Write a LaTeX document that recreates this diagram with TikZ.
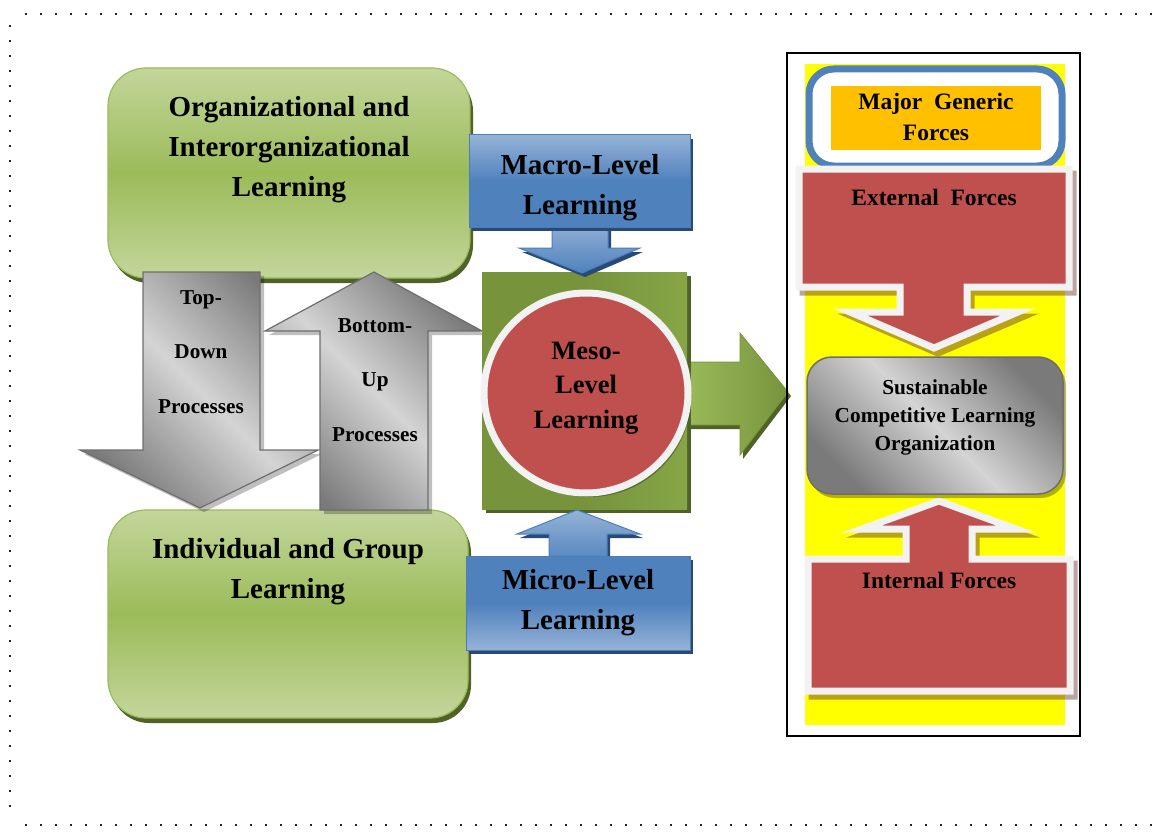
\documentclass[tikz,border=0pt]{standalone}
\usepackage{fontspec}
\setmainfont{Liberation Serif}
\usetikzlibrary{shadows}
\definecolor{gLight}{HTML}{C3D69B}
\definecolor{gMid}{HTML}{9BBB59}
\definecolor{gDark}{HTML}{4F6228}
\definecolor{gSq}{HTML}{77933C}
\definecolor{gSqL}{HTML}{86A646}
\definecolor{bLight}{HTML}{95B3D7}
\definecolor{bMid}{HTML}{4F81BD}
\definecolor{bEdge}{HTML}{4A7EBB}
\definecolor{bDark}{HTML}{2A4A75}
\definecolor{rFill}{HTML}{C0504D}
\definecolor{wEdge}{HTML}{F2F2F2}
\definecolor{grDark}{HTML}{7A7A7A}
\definecolor{grLight}{HTML}{D4D4D4}
\definecolor{grEdge}{HTML}{6E6E6E}
\definecolor{yFill}{HTML}{FFFF00}
\definecolor{oFill}{HTML}{FFC000}
\definecolor{shRed}{HTML}{6A3030}
\begin{document}
\begin{tikzpicture}[x=1pt,y=-1pt,
  dotline/.style={line width=2pt, dash pattern=on 2pt off 13pt, black!85},
  greenbox/.style={rounded corners=38pt, draw=gMid, line width=1.2pt,
    top color=gLight, bottom color=gLight, middle color=gMid,
    drop shadow={shadow xshift=3pt, shadow yshift=-5pt, fill=gDark, opacity=1}},
  grayarrow/.style={draw=grEdge, line width=1.2pt,
    top color=grDark, bottom color=grDark, middle color=grLight, shading angle=-45,
    drop shadow={shadow xshift=4pt, shadow yshift=-4pt, fill=black, opacity=.25}},
  bluebox/.style={draw=bEdge, line width=1pt,
    drop shadow={shadow xshift=3pt, shadow yshift=-4pt, fill=bDark, opacity=1}},
  redarrow/.style={fill=rFill, draw=wEdge, line width=7pt},
  redshadow/.style={draw=shRed, draw opacity=.45, line width=7pt},
  txt/.style={align=center, text=black, inner sep=0pt},
  t29/.style={txt, font=\fontsize{29}{40}\selectfont\bfseries},
  t21/.style={txt, font=\fontsize{21.2}{54.5}\selectfont\bfseries},
  t23/.style={txt, font=\fontsize{23.5}{30.5}\selectfont\bfseries},
]
\useasboundingbox (0,0) rectangle (1159,832);

% dotted page border
\coordinate (bt1) at (25,14);  \coordinate (bt2) at (1159,14);
\coordinate (bl1) at (10,25);  \coordinate (bl2) at (10,815);
\coordinate (bb1) at (25,825); \coordinate (bb2) at (1159,825);
\draw[dotline] (bt1) -- (bt2);
\draw[dotline] (bl1) -- (bl2);
\draw[dotline] (bb1) -- (bb2);

% green level boxes
\path[greenbox] (108,68) rectangle (470,278);
\path[greenbox] (108,510) rectangle (468,718);

% top-down / bottom-up arrows
\path[grayarrow] (143,272) -- (260,272) -- (260,450) -- (318,450) -- (200,508) -- (80,450) -- (143,450) -- cycle;
\path[grayarrow] (374,272) -- (482,331) -- (428,331) -- (428,510) -- (320,510) -- (320,331) -- (265,331) -- cycle;

% right green arrow
\path[left color=gMid, right color=gSq, draw=gSq, line width=.8pt,
  drop shadow={shadow xshift=3pt, shadow yshift=-4pt, fill=gDark, opacity=1}]
  (684,362) -- (740,362) -- (740,333) -- (788,392) -- (740,455) -- (740,425) -- (684,425) -- cycle;

% meso square and circle
\path[left color=gSq, right color=gSqL, middle color=gSq,
  drop shadow={shadow xshift=4pt, shadow yshift=-4pt, fill=gDark, opacity=1}]
  (482,272) rectangle (687,509);
\path[fill=rFill, draw=wEdge, line width=7pt,
  drop shadow={shadow xshift=3pt, shadow yshift=-4pt, fill=black, opacity=.3}]
  (586,393) ellipse [x radius=102, y radius=100];

% macro level
\path[bluebox, top color=bLight, bottom color=bMid]
  (552,220) -- (608,220) -- (608,248) -- (640,248) -- (582,273) -- (519,248) -- (552,248) -- cycle;
\path[bluebox, top color=bLight, bottom color=bMid, middle color=bMid] (469,135) rectangle (690,227);
% micro level
\path[bluebox, top color=bLight, bottom color=bMid]
  (577,510) -- (640,534) -- (607,534) -- (607,565) -- (549,565) -- (549,534) -- (517,534) -- cycle;
\path[bluebox, top color=bMid, bottom color=bLight, middle color=bMid] (466,556) rectangle (690,650);

% right panel
\draw[black, line width=1.5pt] (787,53) rectangle (1080,736);
\fill[yFill] (805,64) rectangle (1065,725);
\draw[bMid, line width=7pt, fill=white, rounded corners=25pt] (809,69) rectangle (1062,166);
\fill[oFill] (831,86) rectangle (1041,150);

% external forces arrow
\begin{scope}[shift={(4,5)}]
\path[redshadow] (799,169) -- (1069,169) -- (1069,287) -- (967,287) -- (967,312) -- (1018,312) -- (934,348) -- (850,312) -- (900,312) -- (900,287) -- (799,287) -- cycle;
\end{scope}
\path[redarrow] (799,169) -- (1069,169) -- (1069,287) -- (967,287) -- (967,312) -- (1018,312) -- (934,348) -- (850,312) -- (900,312) -- (900,287) -- (799,287) -- cycle;

% internal forces arrow
\begin{scope}[shift={(4,5)}]
\path[redshadow] (939,501) -- (1016,529) -- (972,529) -- (972,559) -- (1070,559) -- (1070,691) -- (808,691) -- (808,559) -- (906,559) -- (906,529) -- (862,529) -- cycle;
\end{scope}
\path[redarrow] (939,501) -- (1016,529) -- (972,529) -- (972,559) -- (1070,559) -- (1070,691) -- (808,691) -- (808,559) -- (906,559) -- (906,529) -- (862,529) -- cycle;

% sustainable organization box
\path[draw=grEdge, line width=1.5pt, rounded corners=25pt,
  top color=grDark, bottom color=grDark, middle color=grLight, shading angle=-45,
  drop shadow={shadow xshift=3pt, shadow yshift=-4pt, fill=black, opacity=.3}]
  (807,357) rectangle (1063,494);

% texts
\node[t29] (orgtxt) at (289,150) {Organizational and\\Interorganizational\\Learning};
\node[t29] (indtxt) at (288,572) {Individual and Group\\Learning};
\node[t21] (toptxt) at (201,352) {Top-\\Down\\Processes};
\node[t21] (bottxt) at (375,380) {Bottom-\\Up\\Processes};
\node[t29] (macrotxt) at (580,188) {Macro-Level\\Learning};
\node[t29] (microtxt) at (578,603) {Micro-Level\\Learning};
\node[txt, font=\fontsize{26.5}{34.5}\selectfont\bfseries] (mesotxt) at (586,388) {Meso-\\Level\\Learning};
\node[t23] (majortxt) at (936,117) {Major\ \ Generic\\Forces};
\node[t23] (exttxt) at (934,197) {External\ \ Forces};
\node[txt, font=\fontsize{21.3}{28}\selectfont\bfseries] (sustxt) at (935,417) {Sustainable\\Competitive Learning\\Organization};
\node[t23] (inttxt) at (939,580) {Internal Forces};
\end{tikzpicture}
\end{document}
